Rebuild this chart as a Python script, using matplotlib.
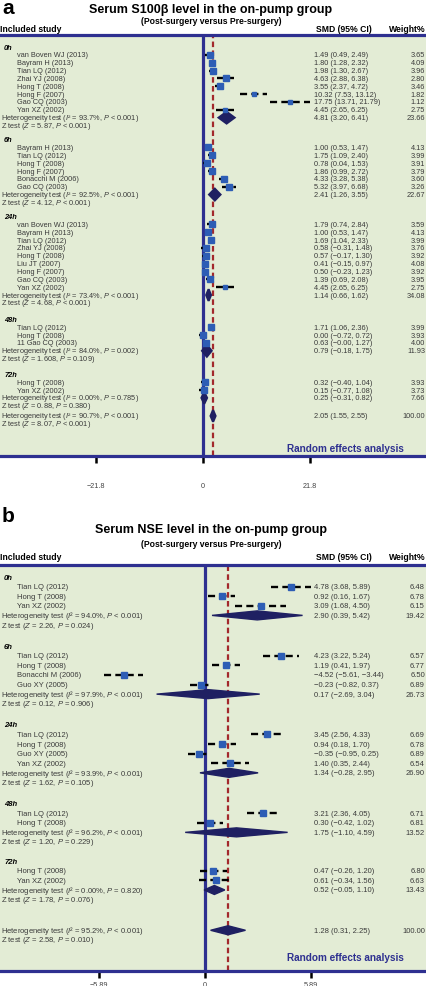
import matplotlib
matplotlib.use('Agg')
import matplotlib.pyplot as plt
from matplotlib import transforms

plt.rcParams['font.family'] = ['Liberation Sans', 'DejaVu Sans']
plt.rcParams['mathtext.fontset'] = 'custom'
plt.rcParams['mathtext.it'] = 'Liberation Sans:italic'
plt.rcParams['mathtext.rm'] = 'Liberation Sans'
plt.rcParams['mathtext.bf'] = 'Liberation Sans:bold'

# ---- panel a : S100B ----
s100_groups = ['0h', '6h', '24h', '48h', '72h']
s100_study = ['van Boven WJ (2013)', 'Bayram H (2013)', 'Tian LQ (2012)', 'Zhai YJ (2008)',
              'Hong T (2008)', 'Hong F (2007)', 'Gao CQ (2003)', 'Yan XZ (2002)',
              'Bayram H (2013)', 'Tian LQ (2012)', 'Hong T (2008)', 'Hong F (2007)',
              'Bonacchi M (2006)', 'Gao CQ (2003)',
              'van Boven WJ (2013)', 'Bayram H (2013)', 'Tian LQ (2012)', 'Zhai YJ (2008)',
              'Hong T (2008)', 'Liu JT (2007)', 'Hong F (2007)', 'Gao CQ (2003)', 'Yan XZ (2002)',
              'Tian LQ (2012)', 'Hong T (2008)', '11 Gao CQ (2003)',
              'Hong T (2008)', 'Yan XZ (2002)']
s100_group = ['0h', '0h', '0h', '0h', '0h', '0h', '0h', '0h',
              '6h', '6h', '6h', '6h', '6h', '6h',
              '24h', '24h', '24h', '24h', '24h', '24h', '24h', '24h', '24h',
              '48h', '48h', '48h',
              '72h', '72h']
s100_smd = [1.49, 1.80, 1.98, 4.63, 3.55, 10.32, 17.75, 4.45,
            1.00, 1.75, 0.78, 1.86, 4.33, 5.32,
            1.79, 1.00, 1.69, 0.58, 0.57, 0.41, 0.50, 1.39, 4.45,
            1.71, 0.00, 0.63,
            0.32, 0.15]
s100_lo = [0.49, 1.28, 1.30, 2.88, 2.37, 7.53, 13.71, 2.65,
           0.53, 1.09, 0.04, 0.99, 3.28, 3.97,
           0.74, 0.53, 1.04, -0.31, -0.17, -0.15, -0.23, 0.69, 2.65,
           1.06, -0.72, -0.0,
           -0.40, -0.77]
s100_hi = [2.49, 2.32, 2.67, 6.38, 4.72, 13.12, 21.79, 6.25,
           1.47, 2.40, 1.53, 2.72, 5.38, 6.68,
           2.84, 1.47, 2.33, 1.48, 1.30, 0.97, 1.23, 2.08, 6.25,
           2.36, 0.72, 1.27,
           1.04, 1.08]
s100_wt = [3.65, 4.09, 3.96, 2.80, 3.46, 1.82, 1.12, 2.75,
           4.13, 3.99, 3.91, 3.79, 3.60, 3.26,
           3.59, 4.13, 3.99, 3.76, 3.92, 4.08, 3.92, 3.95, 2.75,
           3.99, 3.93, 4.00,
           3.93, 3.73]
s100_sub_smd = [4.81, 2.41, 1.14, 0.79, 0.25, 2.05]
s100_sub_lo = [3.20, 1.26, 0.66, -0.18, -0.31, 1.55]
s100_sub_hi = [6.41, 3.55, 1.62, 1.75, 0.82, 2.55]
s100_sub_wt = [23.66, 22.67, 34.08, 11.93, 7.66, 100.00]
s100_sub_i2 = ['93.7%', '92.5%', '73.4%', '84.0%', '0.00%', '90.7%']
s100_sub_p = ['< 0.001', '< 0.001', '< 0.001', '= 0.002', '= 0.785', '< 0.001']
s100_sub_z = ['5.87', '4.12', '4.68', '1.608', '0.88', '8.07']
s100_sub_zp = ['< 0.001', '< 0.001', '< 0.001', '= 0.109', '= 0.380', '< 0.001']
s100_ticks = [-21.8, 0, 21.8]

# ---- panel b : NSE ----
nse_groups = ['0h', '6h', '24h', '48h', '72h']
nse_study = ['Tian LQ (2012)', 'Hong T (2008)', 'Yan XZ (2002)',
             'Tian LQ (2012)', 'Hong T (2008)', 'Bonacchi M (2006)', 'Guo XY (2005)',
             'Tian LQ (2012)', 'Hong T (2008)', 'Guo XY (2005)', 'Yan XZ (2002)',
             'Tian LQ (2012)', 'Hong T (2008)',
             'Hong T (2008)', 'Yan XZ (2002)']
nse_group = ['0h', '0h', '0h',
             '6h', '6h', '6h', '6h',
             '24h', '24h', '24h', '24h',
             '48h', '48h',
             '72h', '72h']
nse_smd = [4.78, 0.92, 3.09,
           4.23, 1.19, -4.52, -0.23,
           3.45, 0.94, -0.35, 1.40,
           3.21, 0.30,
           0.47, 0.61]
nse_lo = [3.68, 0.16, 1.68,
          3.22, 0.41, -5.61, -0.82,
          2.56, 0.18, -0.95, 0.35,
          2.36, -0.42,
          -0.26, -0.34]
nse_hi = [5.89, 1.67, 4.50,
          5.24, 1.97, -3.44, 0.37,
          4.33, 1.70, 0.25, 2.44,
          4.05, 1.02,
          1.20, 1.56]
nse_wt = [6.48, 6.78, 6.15,
          6.57, 6.77, 6.50, 6.89,
          6.69, 6.78, 6.89, 6.54,
          6.71, 6.81,
          6.80, 6.63]
nse_sub_smd = [2.90, 0.17, 1.34, 1.75, 0.52, 1.28]
nse_sub_lo = [0.39, -2.69, -0.28, -1.10, -0.05, 0.31]
nse_sub_hi = [5.42, 3.04, 2.95, 4.59, 1.10, 2.25]
nse_sub_wt = [19.42, 26.73, 26.90, 13.52, 13.43, 100.00]
nse_sub_i2 = ['94.0%', '97.9%', '93.9%', '96.2%', '0.00%', '95.2%']
nse_sub_p = ['< 0.001', '< 0.001', '< 0.001', '< 0.001', '= 0.820', '< 0.001']
nse_sub_z = ['2.26', '0.12', '1.62', '1.20', '1.78', '2.58']
nse_sub_zp = ['= 0.024', '= 0.906', '= 0.105', '= 0.229', '= 0.076', '= 0.010']
nse_ticks = [-5.89, 0, 5.89]

W, H = 427, 987
NAVY = '#2e3090'
RED = '#a3282c'
SQ = '#2d5db5'
DIA = '#1f2062'
BG = '#e3ecd5'
TXT = '#3a3a3a'


def fx(px):
    return px / W


def fy(py):
    return 1 - py / H


def num(v):
    return f'{v:.2f}'.replace('-', '\u2212')


def ci_text(m, lo, hi):
    return f'{num(m)} ({num(lo)}, {num(hi)})'


def draw_panel(letter, title, heads, top, bottom, zero_px, unit_px, ticks, tick_pad,
               groups, study, group, smd, lo, hi, wt,
               sub_smd, sub_lo, sub_hi, sub_wt, sub_i2, sub_p, sub_z, sub_zp,
               y0, step, gaps, dh, dlw, fs, re_y):
    letter_y, title_y, sub_y, head_y = heads
    fig.text(fx(2), fy(letter_y), letter, fontsize=15, fontweight='bold', va='center')
    fig.text(fx(211), fy(title_y), title, fontsize=9.0, fontweight='bold', ha='center', va='center')
    fig.text(fx(211), fy(sub_y), '(Post-surgery versus Pre-surgery)', fontsize=6.2,
             fontweight='bold', ha='center', va='center')
    fig.text(fx(0), fy(head_y), 'Included study', fontsize=6.2, fontweight='bold', va='center')
    fig.text(fx(316), fy(head_y), 'SMD (95% CI)', fontsize=6.2, fontweight='bold', va='center')
    fig.text(fx(426), fy(head_y), 'Weight%', fontsize=6.2, fontweight='bold', ha='right', va='center')

    ax = fig.add_axes([0, fy(bottom), 1, (bottom - top) / H])
    ax.set_facecolor(BG)
    ax.set_xlim(-zero_px / unit_px, (W - zero_px) / unit_px)
    ax.set_ylim(bottom, top)
    for s in ['left', 'right']:
        ax.spines[s].set_visible(False)
    for s in ['top', 'bottom']:
        ax.spines[s].set_color(NAVY)
        ax.spines[s].set_linewidth(2.3)
    ax.set_yticks([])
    ax.set_xticks(ticks)
    ax.set_xticklabels([('%g' % t).replace('-', '\u2212') for t in ticks])
    ax.tick_params(axis='x', direction='out', length=5, width=1.8, color='black',
                   labelsize=5.2, labelcolor='#444444', pad=tick_pad)
    ax.axvline(0, color=NAVY, lw=2.3, zorder=2)
    ax.axvline(sub_smd[-1], color=RED, lw=1.6, ls=(0, (2.5, 1.5)), zorder=2)

    tr = transforms.blended_transform_factory(ax.transAxes, ax.transData)
    kw = dict(transform=tr, va='center', fontsize=fs, color=TXT)

    def diamond(k, y):
        ax.fill([sub_lo[k], sub_smd[k], sub_hi[k], sub_smd[k]],
                [y, y - dh, y, y + dh], facecolor=DIA, edgecolor=DIA, lw=dlw, zorder=4)
        ax.text(fx(314), y, ci_text(sub_smd[k], sub_lo[k], sub_hi[k]), **kw)
        ax.text(fx(425), y, f'{sub_wt[k]:.2f}', ha='right', **kw)
        ax.text(fx(1), y, f'Heterogeneity test ($I$\u00b2 = {sub_i2[k]}, $P$ {sub_p[k]})', **kw)
        ax.text(fx(1), y + step, f'Z test ($Z$ = {sub_z[k]}, $P$ {sub_zp[k]})', **kw)

    y = y0
    for gi, g in enumerate(groups):
        ax.text(fx(4), y, g, fontweight='bold', fontstyle='italic',
                **{**kw, 'color': 'black'})
        for i in range(len(study)):
            if group[i] != g:
                continue
            y += step
            ax.hlines(y, lo[i], hi[i], colors='black', lw=1.7,
                      linestyles=[(0, (3, 1.8))], zorder=3)
            ax.plot(smd[i], y, 's', ms=2.6 + 0.6 * wt[i] ** 0.5, color=SQ, zorder=5)
            ax.text(fx(17), y, study[i], **kw)
            ax.text(fx(314), y, ci_text(smd[i], lo[i], hi[i]), **kw)
            ax.text(fx(425), y, f'{wt[i]:.2f}', ha='right', **kw)
        y += step
        diamond(gi, y)
        y += step + step * gaps[gi]
    diamond(len(groups), y)

    ax.text(fx(404), re_y, 'Random effects analysis', transform=tr, ha='right', va='center',
            fontsize=7.2, fontweight='bold', color=NAVY)
    return ax


fig = plt.figure(figsize=(W / 100, H / 100), dpi=100)

draw_panel('a', 'Serum S100\u03b2 level in the on-pump group', (8, 10, 21, 30), 36, 457,
           203, 107 / 21.8, s100_ticks, 14,
           s100_groups, s100_study, s100_group, s100_smd, s100_lo, s100_hi, s100_wt,
           s100_sub_smd, s100_sub_lo, s100_sub_hi, s100_sub_wt,
           s100_sub_i2, s100_sub_p, s100_sub_z, s100_sub_zp,
           48, 7.85, [1.8, 1.8, 2.1, 2.0, 1.3], 5.8, 1.6, 5.3, 449)

draw_panel('b', 'Serum NSE level in the on-pump group', (517, 530, 545, 558), 566, 972,
           205, 106 / 5.89, nse_ticks, 2,
           nse_groups, nse_study, nse_group, nse_smd, nse_lo, nse_hi, nse_wt,
           nse_sub_smd, nse_sub_lo, nse_sub_hi, nse_sub_wt,
           nse_sub_i2, nse_sub_p, nse_sub_z, nse_sub_zp,
           578, 9.6, [2.2, 2.2, 2.2, 2.0, 3.2], 4.5, 1.0, 5.5, 958)

fig.savefig('out.png', dpi=100)
